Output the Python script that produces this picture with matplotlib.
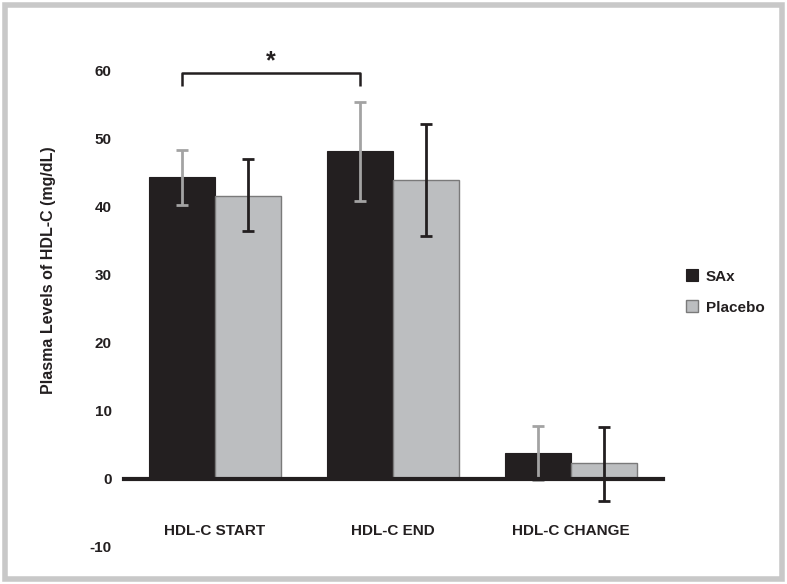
import numpy as np
import matplotlib.pyplot as plt
from matplotlib.patches import Rectangle

plt.rcParams['font.family'] = ['Liberation Sans', 'DejaVu Sans']

groups = ['HDL-C START', 'HDL-C END', 'HDL-C CHANGE']
series = ['SAx', 'Placebo']
sax = [44.3, 48.1, 3.8]
sax_hi = [48.2, 55.3, 7.8]
sax_lo = [40.2, 40.8, -0.2]
placebo = [41.5, 43.8, 2.3]
placebo_hi = [46.9, 52.1, 7.6]
placebo_lo = [36.4, 35.6, -3.2]
yticks = [-10, 0, 10, 20, 30, 40, 50, 60]

fig = plt.figure(figsize=(7.87, 5.84), dpi=100)
ax = fig.add_axes([124/787, 1-547/584, (663-124)/787, (547-36)/584])

x = np.arange(len(groups))
w = 0.37
sax = np.array(sax)
placebo = np.array(placebo)
err_s = [sax - np.array(sax_lo), np.array(sax_hi) - sax]
err_p = [placebo - np.array(placebo_lo), np.array(placebo_hi) - placebo]

ax.bar(x - w/2, sax, w, color='#231f20', edgecolor='#231f20', linewidth=0.8,
       label=series[0], zorder=2)
ax.bar(x + w/2, placebo, w, color='#bcbec0', edgecolor='#7a7a7a', linewidth=1,
       label=series[1], zorder=2)
# error bar colours are swapped relative to the bars in the original
ax.errorbar(x - w/2, sax, yerr=err_s, fmt='none', ecolor='#a3a3a3',
            elinewidth=2, capsize=4, capthick=2, zorder=3)
ax.errorbar(x + w/2, placebo, yerr=err_p, fmt='none', ecolor='#231f20',
            elinewidth=2, capsize=4, capthick=2, zorder=3)

ax.set_xlim(-0.51, 2.515)
ax.set_ylim(-10, 65)
for s in ['top', 'right', 'left']:
    ax.spines[s].set_visible(False)
ax.spines['bottom'].set_position(('data', 0))
ax.spines['bottom'].set_linewidth(3)
ax.spines['bottom'].set_color('#231f20')
ax.spines['bottom'].set_zorder(4)
ax.set_xticks([])
ax.set_yticks(yticks)
ax.set_yticklabels([str(t) for t in yticks], fontsize=11, fontweight='bold',
                   color='#231f20')
ax.tick_params(axis='y', length=0, pad=9)

for xi, g in zip(x, groups):
    ax.text(xi, -7.6, g, ha='center', va='center', fontsize=11,
            fontweight='bold', color='#231f20')

ax.set_ylabel('Plasma Levels of HDL-C (mg/dL)', fontsize=11.5,
              fontweight='bold', color='#231f20')
ax.yaxis.set_label_coords(-0.126, 0.542)

# significance bracket
x0, x1 = x[0] - w/2, x[1] - w/2
ax.plot([x0, x0, x1, x1], [57.6, 59.6, 59.6, 57.6], color='#231f20', lw=1.8,
        solid_capstyle='butt', clip_on=False)
ax.text((x0 + x1) / 2, 61.3, '*', ha='center', va='center', fontsize=18,
        fontweight='bold', color='#231f20')

leg = fig.legend(loc='center left', bbox_to_anchor=(672/787, 1-292/584),
                 frameon=False, fontsize=11, handlelength=0.8,
                 handleheight=0.8, labelspacing=1.1, handletextpad=0.5)
for t in leg.get_texts():
    t.set_fontweight('bold')
    t.set_color('#231f20')

fig.patches.append(Rectangle((5/787, 5/584), 777/787, 574/584,
                             transform=fig.transFigure, fill=False,
                             edgecolor='#c8c8c8', linewidth=4))

fig.savefig('out.png', dpi=100)
